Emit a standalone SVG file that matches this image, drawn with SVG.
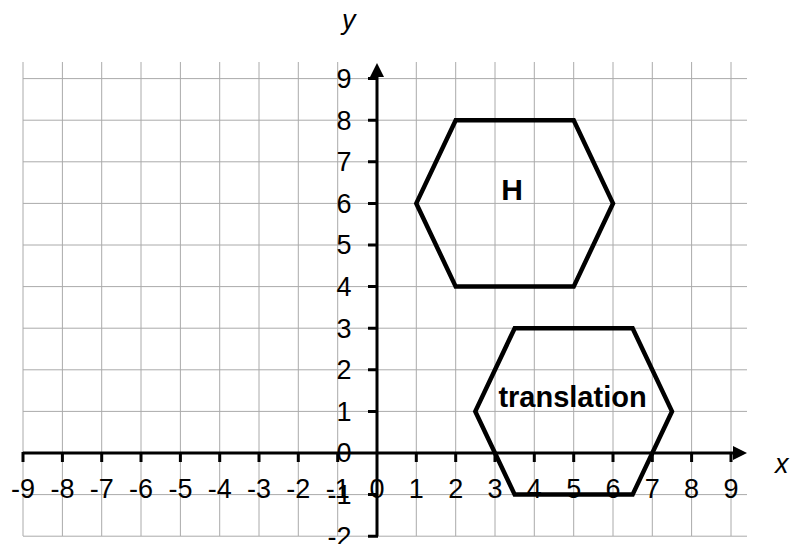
<svg xmlns="http://www.w3.org/2000/svg" width="791" height="544" viewBox="0 0 791 544">
<style>
.grid{stroke:#aaaaaa;stroke-width:1;fill:none}
.axis{stroke:#000;stroke-width:3;fill:none}
.tick{stroke:#000;stroke-width:3}
.hex{stroke:#000;stroke-width:4.5;fill:none;stroke-linejoin:miter}
.num{font-family:"Liberation Sans",Arial,sans-serif;font-size:27px;fill:#000}
.xl{text-anchor:middle}
.yl{text-anchor:end}
.var{font-family:"Liberation Sans",Arial,sans-serif;font-size:27px;font-style:italic;fill:#000}
.lab{font-family:"Liberation Sans",Arial,sans-serif;font-weight:bold;fill:#000;text-anchor:middle}
</style>
<rect width="791" height="544" fill="#fff"/>
<g id="grid" class="grid">
<path d="M23 62V536M62.4 62V536M101.7 62V536M141 62V536M180.4 62V536M219.7 62V536M259 62V536M298.3 62V536M337.7 62V536M416.3 62V536M455.7 62V536M495 62V536M534.3 62V536M573.7 62V536M613 62V536M652.3 62V536M691.6 62V536M731 62V536"/>
<path d="M23 78.6H747M23 120.2H747M23 161.8H747M23 203.4H747M23 245H747M23 286.6H747M23 328.2H747M23 369.8H747M23 411.4H747M23 494.6H747M23 536.2H747"/>
</g>
<g id="axes">
<path class="axis" d="M23 453H734"/>
<path class="axis" d="M377 536.2V76"/>
<polygon points="747,453 733,446 733,460" fill="#000"/>
<polygon points="377,63 370,77 384,77" fill="#000"/>
<path class="tick" d="M23 452V462M62.4 452V462M101.7 452V462M141 452V462M180.4 452V462M219.7 452V462M259 452V462M298.3 452V462M337.7 452V462M416.3 452V462M455.7 452V462M495 452V462M534.3 452V462M573.7 452V462M613 452V462M652.3 452V462M691.6 452V462M731 452V462"/>
<path class="tick" d="M368 78.6H378M368 120.2H378M368 161.8H378M368 203.4H378M368 245H378M368 286.6H378M368 328.2H378M368 369.8H378M368 411.4H378M368 494.6H378M368 536.2H378"/>
</g>
<g id="x-labels" class="num xl">
<text x="23" y="498">-9</text><text x="62.4" y="498">-8</text><text x="101.7" y="498">-7</text><text x="141" y="498">-6</text><text x="180.4" y="498">-5</text><text x="219.7" y="498">-4</text><text x="259" y="498">-3</text><text x="298.3" y="498">-2</text><text x="337.7" y="498">-1</text><text x="377" y="498">0</text><text x="416.3" y="498">1</text><text x="455.7" y="498">2</text><text x="495" y="498">3</text><text x="534.3" y="498">4</text><text x="573.7" y="498">5</text><text x="613" y="498">6</text><text x="652.3" y="498">7</text><text x="691.6" y="498">8</text><text x="731" y="498">9</text>
</g>
<g id="y-labels" class="num yl">
<text x="351.5" y="88">9</text><text x="351.5" y="129.6">8</text><text x="351.5" y="171.2">7</text><text x="351.5" y="212.8">6</text><text x="351.5" y="254.4">5</text><text x="351.5" y="296">4</text><text x="351.5" y="337.6">3</text><text x="351.5" y="379.2">2</text><text x="351.5" y="420.8">1</text><text x="351.5" y="462.4">0</text><text x="351.5" y="504">-1</text><text x="351.5" y="545.6">-2</text>
</g>
<text class="var" x="342" y="29">y</text>
<text class="var" x="775" y="473">x</text>
<g id="hexagon-H">
<polygon class="hex" points="416.3,203.4 455.7,120.2 573.7,120.2 613,203.4 573.7,286.6 455.7,286.6"/>
<text class="lab" x="512" y="199.5" font-size="30">H</text>
</g>
<g id="hexagon-translation">
<polygon class="hex" points="475.3,411.4 514.7,328.2 632.6,328.2 672,411.4 632.6,494.6 514.7,494.6"/>
<text class="lab" x="572.5" y="407" font-size="29">translation</text>
</g>
</svg>
